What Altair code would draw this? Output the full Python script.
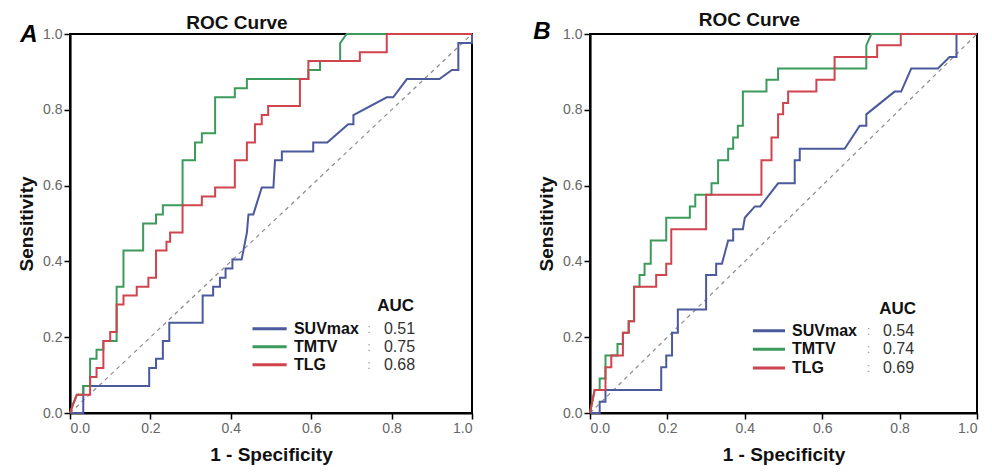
import altair as alt
import pandas as pd

FONT = "Liberation Sans"
series = ["SUVmax", "TMTV", "TLG"]
colors = ["#4a5a9c", "#3c9a5b", "#d0444e"]

# ---------- Panel A ----------
A_suv_fpr = [0, 0.033, 0.033, 0.197, 0.197, 0.214, 0.214, 0.231, 0.231, 0.247, 0.247, 0.33, 0.33, 0.356, 0.356,
             0.373, 0.373, 0.387, 0.387, 0.404, 0.404, 0.427, 0.44, 0.444, 0.456, 0.477, 0.506, 0.51, 0.527, 0.527,
             0.605, 0.605, 0.64, 0.692, 0.705, 0.705, 0.788, 0.804, 0.838, 0.919, 0.95, 0.966, 0.966, 1.0, 1.0]
A_suv_tpr = [0, 0, 0.071, 0.071, 0.119, 0.119, 0.143, 0.143, 0.19, 0.19, 0.238, 0.238, 0.31, 0.31, 0.333,
             0.333, 0.357, 0.357, 0.381, 0.381, 0.405, 0.405, 0.476, 0.524, 0.524, 0.595, 0.595, 0.667, 0.667, 0.69,
             0.69, 0.714, 0.714, 0.762, 0.762, 0.786, 0.833, 0.833, 0.881, 0.881, 0.905, 0.905, 0.976, 0.976, 1.0]

A_tmtv_fpr = [0, 0.008, 0.017, 0.033, 0.033, 0.05, 0.05, 0.066, 0.066, 0.083, 0.083, 0.116, 0.116, 0.133, 0.133,
              0.182, 0.182, 0.214, 0.214, 0.231, 0.231, 0.28, 0.28, 0.311, 0.311, 0.328, 0.328, 0.361, 0.361,
              0.41, 0.41, 0.44, 0.44, 0.593, 0.593, 0.622, 0.622, 0.672, 0.672, 0.688, 1.0]
A_tmtv_tpr = [0, 0.024, 0.048, 0.048, 0.071, 0.071, 0.143, 0.143, 0.167, 0.167, 0.19, 0.19, 0.333, 0.333, 0.429,
              0.429, 0.5, 0.5, 0.524, 0.524, 0.548, 0.548, 0.667, 0.667, 0.714, 0.714, 0.738, 0.738, 0.833,
              0.833, 0.857, 0.857, 0.881, 0.881, 0.905, 0.905, 0.929, 0.929, 0.976, 1.0, 1.0]

A_tlg_fpr = [0, 0.008, 0.017, 0.05, 0.05, 0.066, 0.066, 0.083, 0.083, 0.1, 0.1, 0.116, 0.116, 0.133, 0.133,
             0.166, 0.166, 0.195, 0.195, 0.214, 0.214, 0.24, 0.24, 0.249, 0.249, 0.28, 0.28, 0.328, 0.328,
             0.361, 0.361, 0.41, 0.41, 0.44, 0.44, 0.46, 0.46, 0.477, 0.477, 0.493, 0.493, 0.572, 0.572,
             0.593, 0.593, 0.721, 0.721, 0.788, 0.788, 1.0]
A_tlg_tpr = [0, 0.024, 0.048, 0.048, 0.095, 0.095, 0.119, 0.119, 0.19, 0.19, 0.214, 0.214, 0.286, 0.286, 0.31,
             0.31, 0.333, 0.333, 0.357, 0.357, 0.429, 0.429, 0.452, 0.452, 0.476, 0.476, 0.548, 0.548, 0.571,
             0.571, 0.595, 0.595, 0.667, 0.667, 0.714, 0.714, 0.762, 0.762, 0.786, 0.786, 0.81, 0.81, 0.881,
             0.881, 0.929, 0.929, 0.952, 0.952, 1.0, 1.0]

A_auc = ["0.51", "0.75", "0.68"]

# ---------- Panel B ----------
B_suv_fpr = [0, 0.025, 0.025, 0.04, 0.04, 0.184, 0.184, 0.197, 0.197, 0.212, 0.212, 0.227, 0.227, 0.3, 0.3,
             0.326, 0.326, 0.341, 0.357, 0.37, 0.37, 0.395, 0.4, 0.426, 0.44, 0.486, 0.529, 0.529, 0.542, 0.542,
             0.658, 0.697, 0.714, 0.714, 0.787, 0.804, 0.83, 0.899, 0.929, 0.947, 0.947, 1.0]
B_suv_tpr = [0, 0, 0.03, 0.03, 0.061, 0.061, 0.121, 0.121, 0.152, 0.152, 0.212, 0.212, 0.273, 0.273, 0.364,
             0.364, 0.394, 0.394, 0.455, 0.455, 0.485, 0.485, 0.515, 0.545, 0.545, 0.606, 0.606, 0.667, 0.667, 0.697,
             0.697, 0.758, 0.758, 0.788, 0.848, 0.848, 0.909, 0.909, 0.939, 0.939, 1.0, 1.0]

B_tmtv_fpr = [0, 0.012, 0.025, 0.025, 0.04, 0.04, 0.071, 0.071, 0.085, 0.085, 0.1, 0.1, 0.114, 0.114, 0.128,
              0.128, 0.141, 0.141, 0.157, 0.157, 0.197, 0.197, 0.258, 0.258, 0.272, 0.272, 0.314, 0.314, 0.331,
              0.331, 0.357, 0.357, 0.37, 0.37, 0.382, 0.382, 0.395, 0.395, 0.456, 0.456, 0.486, 0.486, 0.714,
              0.714, 0.727, 1.0]
B_tmtv_tpr = [0, 0.061, 0.061, 0.091, 0.091, 0.152, 0.152, 0.182, 0.182, 0.212, 0.212, 0.242, 0.242, 0.333, 0.333,
              0.364, 0.364, 0.394, 0.394, 0.455, 0.455, 0.515, 0.515, 0.545, 0.545, 0.576, 0.576, 0.606, 0.606,
              0.667, 0.667, 0.697, 0.697, 0.727, 0.727, 0.758, 0.758, 0.848, 0.848, 0.879, 0.879, 0.909, 0.909,
              0.97, 1.0, 1.0]

B_tlg_fpr = [0, 0.012, 0.04, 0.04, 0.055, 0.055, 0.085, 0.085, 0.1, 0.1, 0.114, 0.114, 0.171, 0.171, 0.197,
             0.197, 0.21, 0.21, 0.3, 0.3, 0.443, 0.443, 0.469, 0.469, 0.486, 0.486, 0.499, 0.499, 0.512, 0.512,
             0.585, 0.585, 0.632, 0.632, 0.742, 0.742, 0.803, 0.803, 1.0]
B_tlg_tpr = [0, 0.061, 0.061, 0.121, 0.121, 0.152, 0.152, 0.212, 0.212, 0.242, 0.242, 0.333, 0.333, 0.364, 0.364,
             0.394, 0.394, 0.485, 0.485, 0.576, 0.576, 0.667, 0.667, 0.727, 0.727, 0.788, 0.788, 0.818, 0.818, 0.848,
             0.848, 0.879, 0.879, 0.939, 0.939, 0.97, 0.97, 1.0, 1.0]

B_auc = ["0.54", "0.74", "0.69"]

ticks = [0.0, 0.2, 0.4, 0.6, 0.8, 1.0]


def curves_df(fprs, tprs):
    rows = []
    for name, f, t in zip(series, fprs, tprs):
        for i, (a, b) in enumerate(zip(f, t)):
            rows.append({"series": name, "fpr": a, "tpr": b, "i": i})
    return pd.DataFrame(rows)


def panel(letter, fprs, tprs, auc, w, h, leg, letter_xy):
    xs = alt.Scale(domain=[0, 1], nice=False)
    ys = alt.Scale(domain=[0, 1], nice=False)
    xax = alt.Axis(values=ticks, format=".1f", title="1 - Specificity")
    yax = alt.Axis(values=ticks, format=".1f", title="Sensitivity")
    cscale = alt.Scale(domain=series, range=colors)

    diag = alt.Chart(pd.DataFrame({"fpr": [0, 1], "tpr": [0, 1]})).mark_line(
        color="#8a8a8a", strokeDash=[4, 4], strokeWidth=1.2
    ).encode(x=alt.X("fpr:Q", scale=xs, axis=xax), y=alt.Y("tpr:Q", scale=ys, axis=yax))

    lines = alt.Chart(curves_df(fprs, tprs)).mark_line(strokeWidth=2).encode(
        x=alt.X("fpr:Q", scale=xs, axis=xax),
        y=alt.Y("tpr:Q", scale=ys, axis=yax),
        color=alt.Color("series:N", scale=cscale, legend=None),
        order="i:Q",
        detail="series:N",
    )

    lx0, lx1, lab_x, col_x, val_x, auc_x, auc_y, rows_y = leg
    ldf = pd.DataFrame({"series": series, "auc": auc, "y": rows_y,
                        "x0": [lx0] * 3, "x1": [lx1] * 3, "lx": [lab_x] * 3,
                        "cx": [col_x] * 3, "vx": [val_x] * 3, "colon": [":"] * 3})
    leg_lines = alt.Chart(ldf).mark_rule(strokeWidth=3).encode(
        x="x0:Q", x2="x1:Q", y="y:Q", color=alt.Color("series:N", scale=cscale, legend=None))
    leg_labels = alt.Chart(ldf).mark_text(align="left", baseline="middle", fontSize=16, fontWeight="bold",
                                          font=FONT, color="#111").encode(x="lx:Q", y="y:Q", text="series:N")
    leg_colon = alt.Chart(ldf).mark_text(align="center", baseline="middle", fontSize=13,
                                         font=FONT, color="#999").encode(x="cx:Q", y="y:Q", text="colon:N")
    leg_vals = alt.Chart(ldf).mark_text(align="left", baseline="middle", fontSize=16,
                                        font=FONT, color="#333").encode(x="vx:Q", y="y:Q", text="auc:N")
    auc_t = alt.Chart(pd.DataFrame({"t": ["AUC"], "x": [auc_x], "y": [auc_y]})).mark_text(
        align="center", baseline="middle", fontSize=17, fontWeight="bold", font=FONT, color="#111"
    ).encode(x="x:Q", y="y:Q", text="t:N")

    let = alt.Chart(pd.DataFrame({"t": [letter]})).mark_text(
        align="center", baseline="alphabetic", fontSize=24, fontWeight="bold", fontStyle="italic",
        font=FONT, color="#000"
    ).encode(x=alt.value(letter_xy[0]), y=alt.value(letter_xy[1]), text="t:N")

    return alt.layer(diag, lines, leg_lines, leg_labels, leg_colon, leg_vals, auc_t, let).properties(
        width=w, height=h,
        title=alt.TitleParams("ROC Curve", fontSize=19, fontWeight="bold", font=FONT, color="#111",
                              anchor="middle", dx=-34, offset=-10),
    )


pA = panel("A", [A_suv_fpr, A_tmtv_fpr, A_tlg_fpr], [A_suv_tpr, A_tmtv_tpr, A_tlg_tpr], A_auc, 402, 379,
           (0.454, 0.539, 0.557, 0.744, 0.781, 0.81, 0.282, [0.222, 0.175, 0.127]), (-41, 8))
pB = panel("B", [B_suv_fpr, B_tmtv_fpr, B_tlg_fpr], [B_suv_tpr, B_tmtv_tpr, B_tlg_tpr], B_auc, 387, 379,
           (0.421, 0.504, 0.522, 0.72, 0.757, 0.795, 0.274, [0.217, 0.168, 0.119]), (-48, 5))

chart = alt.hconcat(pA, pB, spacing=118, bounds="flush").properties(
    padding={"left": 8, "top": 2, "right": 0, "bottom": 0}
).configure_view(stroke="#000", strokeWidth=2).configure_axis(
    grid=False, domainColor="#000", domainWidth=2.2, tickColor="#000", tickWidth=1.5, tickSize=6,
    labelFont=FONT, labelFontSize=14, labelColor="#666", labelPadding=2,
    titleFont=FONT, titleFontSize=19, titleFontWeight="bold", titleColor="#111",
).configure_axisX(titlePadding=10).configure_axisY(titlePadding=6)

chart.save("out.html", embed_options={"renderer": "svg", "actions": False})
